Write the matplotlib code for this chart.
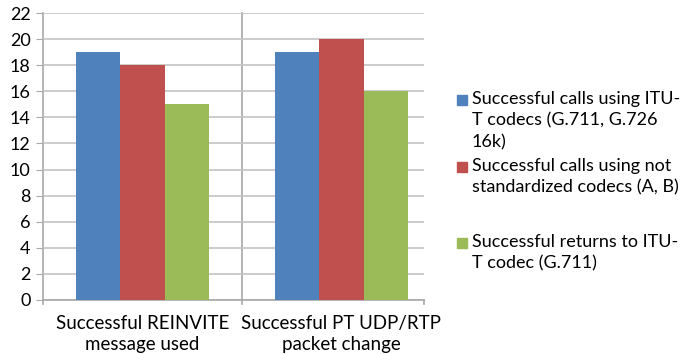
import matplotlib.pyplot as plt
from matplotlib.patches import Rectangle
import numpy as np

categories = ["Successful REINVITE\nmessage used", "Successful PT UDP/RTP\npacket change"]
series_names = [
    "Successful calls using ITU-\nT codecs (G.711, G.726\n16k)",
    "Successful calls using not\nstandardized codecs (A, B)",
    "Successful returns to ITU-\nT codec (G.711)",
]
itu_calls = [19, 19]
nonstd_calls = [18, 20]
returns_itu = [15, 16]
yticks = list(range(0, 23, 2))

colors = ["#4f81bd", "#c0504d", "#9bbb59"]
grid_col = "#c4c4c4"
axis_col = "#a8a8a8"

plt.rcParams['font.family'] = ['Lato', 'DejaVu Sans']

W, H = 692, 354
fig = plt.figure(figsize=(W / 100, H / 100), dpi=100)
ax = fig.add_axes([43 / W, 1 - 300 / H, (424 - 43) / W, (300 - 13) / H])

x = np.arange(len(categories))
bw = 0.224
for i, vals in enumerate([itu_calls, nonstd_calls, returns_itu]):
    ax.bar(x + (i - 1) * bw, vals, width=bw, color=colors[i], zorder=3)

ax.set_xlim(-0.5, 1.415)
ax.set_ylim(0, 22)
ax.set_yticks(yticks)
ax.yaxis.grid(True, color=grid_col, linewidth=1.2, zorder=0)
ax.set_xticks(x)
ax.set_xticklabels(categories, fontsize=13.5, linespacing=1.3)
ax.tick_params(axis='x', length=0, pad=11)
ax.tick_params(axis='y', length=5, color=axis_col, labelsize=13, pad=4)
for xv in [-0.5, 0.5]:
    ax.plot([xv, xv], [-0.3, 22], color=axis_col, lw=1.2, clip_on=False, zorder=1)
ax.plot([1.415, 1.415], [-0.3, 0], color=axis_col, lw=1.2, clip_on=False)
for s in ['top', 'right', 'left']:
    ax.spines[s].set_visible(False)
ax.spines['bottom'].set_color(axis_col)
ax.spines['bottom'].set_linewidth(1.2)

# Legend drawn as patches and text blocks, first line of each entry at the given height
first_line_y = [100, 167, 243]
for name, col, yc in zip(series_names, colors, first_line_y):
    fig.patches.append(Rectangle((457 / W, 1 - (yc + 5) / H), 10 / W, 10 / H,
                                 transform=fig.transFigure, color=col))
    fig.text(472 / W, 1 - (yc - 9) / H, name, fontsize=13, va='top', ha='left',
             linespacing=1.42)

fig.savefig("out.png", dpi=100)
